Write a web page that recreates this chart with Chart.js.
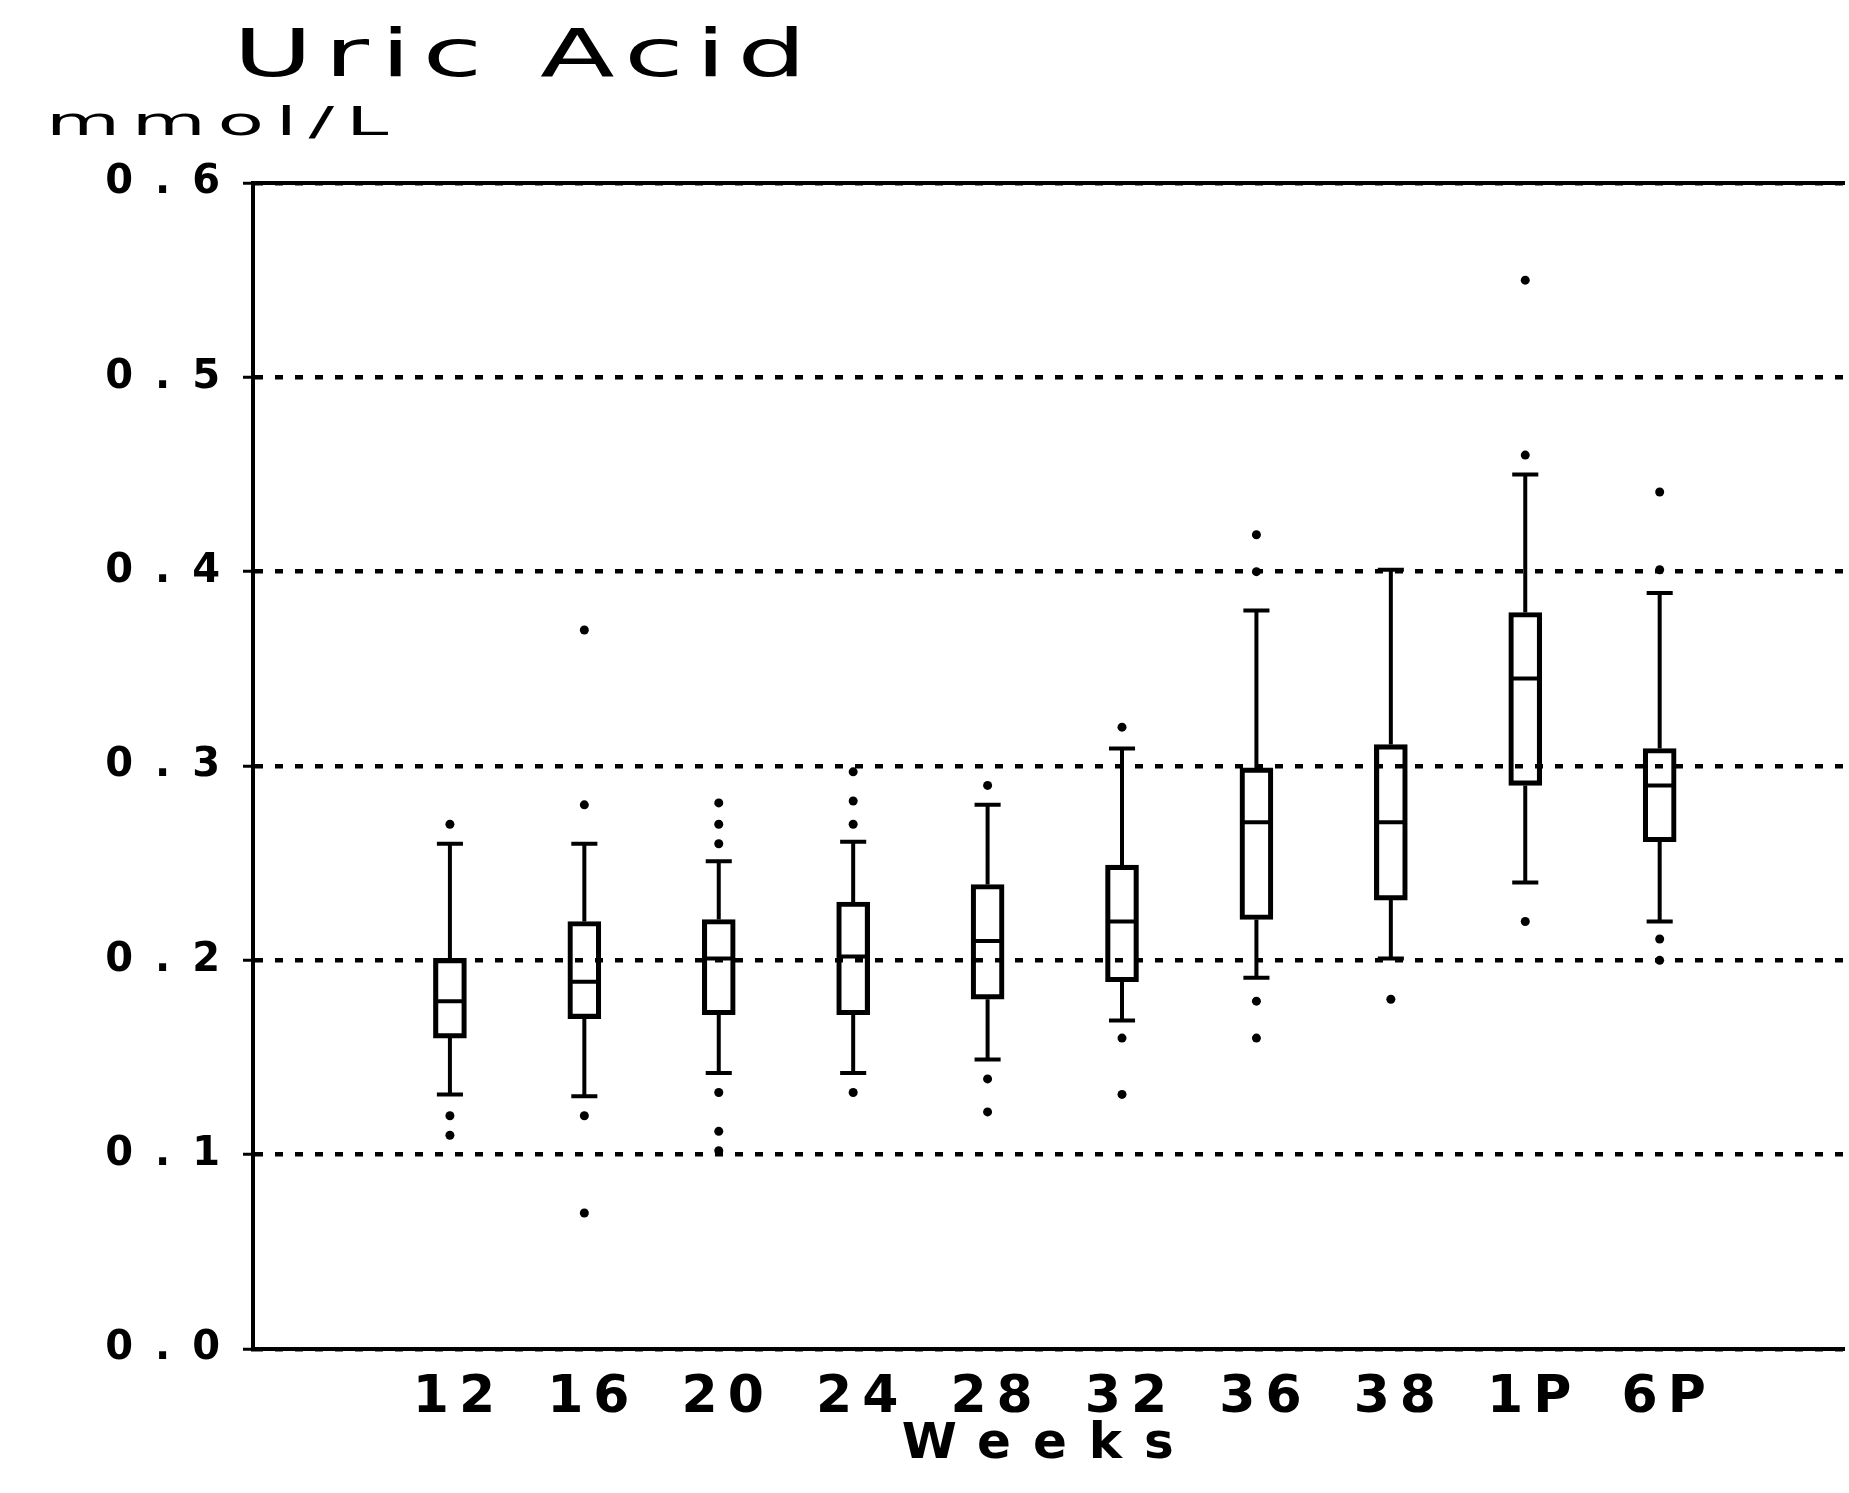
<!DOCTYPE html>
<html>
<head>
<meta charset="utf-8">
<title>Uric Acid</title>
<script src="https://cdn.jsdelivr.net/npm/chart.js@4.4.1/dist/chart.umd.min.js"></script>
<style>
  html, body { margin: 0; padding: 0; background: #fff; }
  #wrap { position: relative; width: 1849px; height: 1493px; overflow: hidden; }
  #chart { position: absolute; left: 0; top: 0; }
  .lbl { position: absolute; white-space: nowrap; color: #000; font-family: 'DejaVu Sans', sans-serif; line-height: 1; transform-origin: 0 0; }
  #title { left: 233px; top: 21px; font-size: 66px; letter-spacing: 7px; transform: scaleX(1.65); }
  #unit { left: 46px; top: 102px; font-size: 39px; letter-spacing: 6px; transform: scaleX(1.95); }
</style>
</head>
<body>
<div id="wrap">
  <canvas id="chart" width="1849" height="1493"></canvas>
  <div class="lbl" id="title">Uric Acid</div>
  <div class="lbl" id="unit">mmol/L</div>
</div>
<script>
const weeks = ['12', '16', '20', '24', '28', '32', '36', '38', '1P', '6P'];
const whiskerLow = [0.131, 0.130, 0.142, 0.142, 0.149, 0.169, 0.191, 0.201, 0.240, 0.220];
const q1 = [0.160, 0.170, 0.172, 0.172, 0.180, 0.189, 0.221, 0.231, 0.290, 0.261];
const median = [0.179, 0.189, 0.201, 0.202, 0.210, 0.220, 0.271, 0.271, 0.345, 0.290];
const q3 = [0.201, 0.220, 0.221, 0.230, 0.239, 0.249, 0.299, 0.311, 0.379, 0.309];
const whiskerHigh = [0.260, 0.260, 0.251, 0.261, 0.280, 0.309, 0.380, 0.401, 0.450, 0.389];
const outliers = [
  [0.270, 0.120, 0.110],
  [0.370, 0.280, 0.120, 0.070],
  [0.281, 0.270, 0.260, 0.132, 0.112, 0.102],
  [0.297, 0.282, 0.270, 0.132],
  [0.290, 0.139, 0.122],
  [0.320, 0.160, 0.131],
  [0.419, 0.400, 0.179, 0.160],
  [0.180],
  [0.550, 0.460, 0.220],
  [0.441, 0.401, 0.211, 0.200],
];
const yTicks = [0, 0.1, 0.2, 0.3, 0.4, 0.5, 0.6];
const yTickLabels = ['0.0', '0.1', '0.2', '0.3', '0.4', '0.5', '0.6'];

// x range chosen so the first box sits ~1.5 steps right of the axis
const X_MIN = -1.465;
const X_MAX = 10.375;
const CAP_HALF = 0.097;
const MED_HALF = 0.115;

Chart.defaults.font.family = "'DejaVu Sans', sans-serif";
Chart.defaults.color = '#000';

const gap = (i) => ({ x: i, y: null });

const whiskerPts = [];
const medianPts = [];
weeks.forEach((w, i) => {
  whiskerPts.push(
    { x: i, y: q3[i] }, { x: i, y: whiskerHigh[i] }, gap(i),
    { x: i, y: q1[i] }, { x: i, y: whiskerLow[i] }, gap(i),
    { x: i - CAP_HALF, y: whiskerHigh[i] }, { x: i + CAP_HALF, y: whiskerHigh[i] }, gap(i),
    { x: i - CAP_HALF, y: whiskerLow[i] }, { x: i + CAP_HALF, y: whiskerLow[i] }, gap(i)
  );
  medianPts.push({ x: i - MED_HALF, y: median[i] }, { x: i + MED_HALF, y: median[i] }, gap(i));
});
const boxData = weeks.map((w, i) => ({ x: i, y: [q1[i], q3[i]] }));
const outlierPts = outliers.flatMap((arr, i) => arr.map((v) => ({ x: i, y: v })));

// y labels + axis title get wide spacing, x tick labels (z:1, drawn after datasets) get less
const spacingPlugin = {
  id: 'spacing',
  beforeDraw(chart) { chart.ctx.letterSpacing = '22px'; },
  beforeDatasetsDraw(chart) { chart.ctx.letterSpacing = '0px'; },
  afterDatasetsDraw(chart) { chart.ctx.letterSpacing = '10px'; },
};

const ctx = document.getElementById('chart').getContext('2d');
new Chart(ctx, {
  type: 'scatter',
  data: {
    datasets: [
      {
        type: 'bar',
        label: 'IQR',
        data: boxData,
        backgroundColor: 'rgba(0,0,0,0)',
        borderColor: '#000',
        borderWidth: 4.5,
        borderSkipped: false,
        barThickness: 33,
        order: 2,
      },
      {
        type: 'line',
        label: 'Whiskers',
        data: whiskerPts,
        borderColor: '#000',
        borderWidth: 4,
        pointRadius: 0,
        spanGaps: false,
        fill: false,
        tension: 0,
        order: 1,
      },
      {
        type: 'line',
        label: 'Median',
        data: medianPts,
        borderColor: '#000',
        borderWidth: 4,
        pointRadius: 0,
        spanGaps: false,
        fill: false,
        tension: 0,
        order: 1,
      },
      {
        type: 'scatter',
        label: 'Outliers',
        data: outlierPts,
        backgroundColor: '#000',
        borderWidth: 0,
        pointRadius: 4.5,
        order: 0,
      },
    ],
  },
  options: {
    responsive: false,
    devicePixelRatio: 1,
    animation: false,
    layout: { padding: { top: 183, right: 0, bottom: 0, left: 0 } },
    plugins: {
      legend: { display: false },
      tooltip: { enabled: false },
    },
    scales: {
      x: {
        type: 'linear',
        min: X_MIN,
        max: X_MAX,
        offset: false,
        afterBuildTicks: (s) => { s.ticks = weeks.map((w, i) => ({ value: i })); },
        afterFit: (s) => { s.height = 144; },
        ticks: {
          autoSkip: false,
          maxRotation: 0,
          padding: 18,
          labelOffset: 9,
          z: 1,
          font: { size: 52, weight: 'bold' },
          callback: (v) => weeks[v],
        },
        grid: { display: false, drawTicks: false },
        border: { display: true, color: '#000', width: 4 },
        title: {
          display: true,
          text: 'Weeks',
          font: { size: 50, weight: 'bold' },
          padding: { top: 0, bottom: 18 },
        },
      },
      x2: {
        type: 'linear',
        position: 'top',
        min: X_MIN,
        max: X_MAX,
        afterFit: (s) => { s.height = 0; },
        ticks: { display: false },
        grid: { display: false, drawTicks: false },
        border: { display: true, color: '#000', width: 4 },
      },
      y: {
        min: 0,
        max: 0.6,
        afterBuildTicks: (s) => { s.ticks = yTicks.map((v) => ({ value: v })); },
        afterFit: (s) => { s.width = 253; },
        ticks: {
          padding: 1,
          font: { size: 40, weight: 'bold' },
          callback: (v, i) => yTickLabels[i],
        },
        grid: {
          color: '#000',
          lineWidth: 4.5,
          drawTicks: true,
          tickLength: 10,
          tickWidth: 3,
          tickColor: '#000',
          tickBorderDash: [],
        },
        border: { display: true, color: '#000', width: 4, dash: [8, 12] },
      },
    },
  },
  plugins: [spacingPlugin],
});
</script>
</body>
</html>
